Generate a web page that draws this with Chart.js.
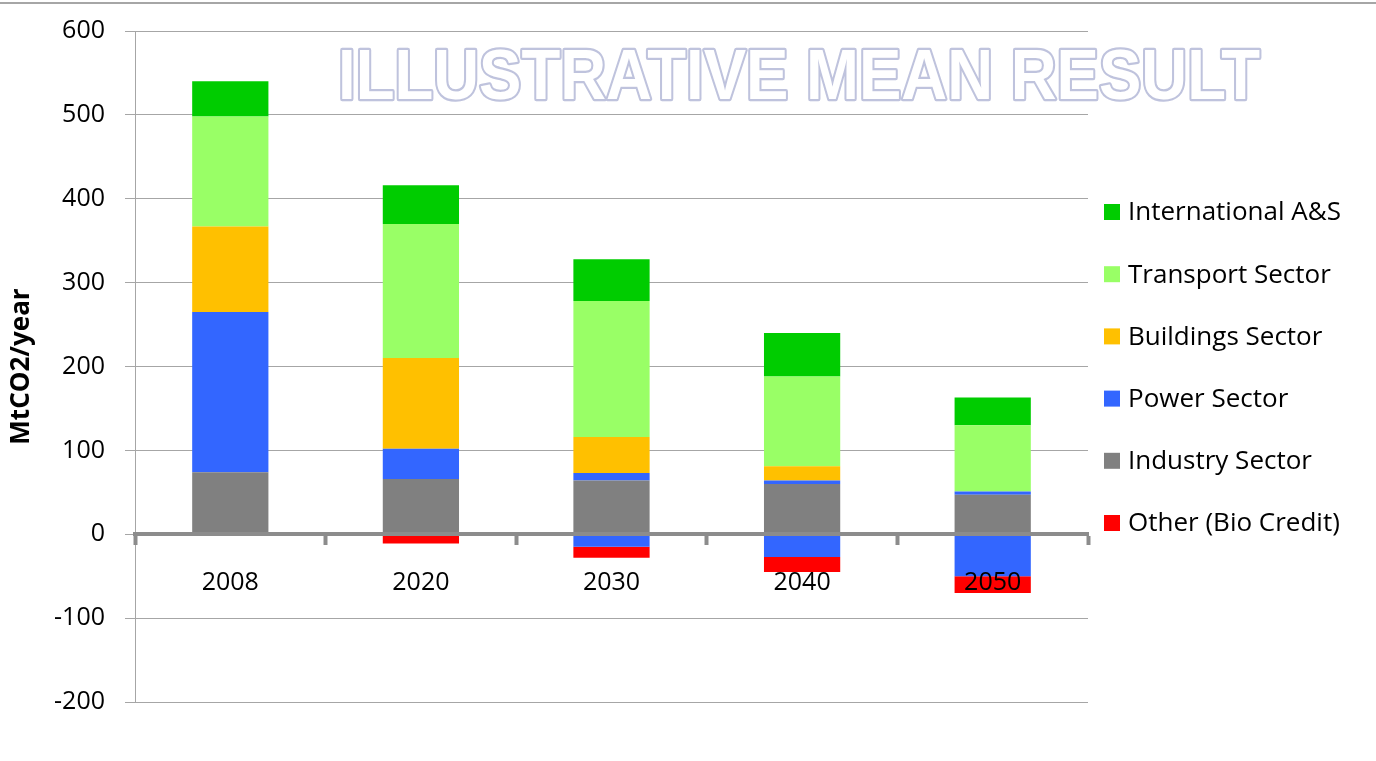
<!DOCTYPE html>
<html>
<head>
<meta charset="utf-8">
<script src="https://cdn.jsdelivr.net/npm/chart.js@4.4.1/dist/chart.umd.min.js"></script>
<style>
    html, body { margin: 0; padding: 0; background: #fff; }
    #wrap { position: relative; width: 1376px; height: 761px; }
</style>
</head>
<body>
<div id="wrap"><canvas id="chart" width="1376" height="761"></canvas></div>
<script>
// data (MtCO2/year)
const years = ['2008', '2020', '2030', '2040', '2050'];
const industry = [74, 66, 64, 60, 47];
const powerPos = [191, 36, 9, 4, 4];
const powerNeg = [0, 0, -15, -27, -50];
const buildings = [102, 108, 43, 17, 0];
const transport = [131, 160, 162, 107, 79];
const intlAS = [42, 46, 50, 52, 33];
const otherBio = [0, -11, -13, -18, -20];
const yTickValues = [-200, -100, 0, 100, 200, 300, 400, 500, 600];
const legendOrder = ['International A&S', 'Transport Sector', 'Buildings Sector',
    'Power Sector', 'Industry Sector', 'Other (Bio Credit)'];

const FONT = '"Open Sans", "DejaVu Sans", sans-serif';

const colors = {
    intl: '#00cc00',
    transport: '#99ff66',
    buildings: '#ffc000',
    power: '#3366ff',
    industry: '#808080',
    other: '#ff0000'
};

// watermark title + top rule
const decorPlugin = {
    id: 'decor',
    beforeDraw(chart) {
        const ctx = chart.ctx;
        ctx.save();
        ctx.strokeStyle = '#a6a6a6';
        ctx.lineWidth = 2;
        ctx.beginPath();
        ctx.moveTo(0, 3);
        ctx.lineTo(chart.width, 3);
        ctx.stroke();
        ctx.restore();
    },
    beforeDatasetsDraw(chart) {
        const ctx = chart.ctx;
        const text = 'ILLUSTRATIVE MEAN RESULT';
        ctx.save();
        ctx.font = 'bold 70px "Liberation Sans", Arial, sans-serif';
        ctx.textBaseline = 'alphabetic';
        const w = ctx.measureText(text).width;
        ctx.translate(338, 99);
        ctx.scale(922 / w, 1);
        ctx.lineJoin = 'round';
        ctx.strokeStyle = '#bfc3dd';
        ctx.lineWidth = 4.5;
        ctx.strokeText(text, 0, 0);
        ctx.fillStyle = '#ffffff';
        ctx.fillText(text, 0, 0);
        ctx.restore();
    }
};

// legend at the right of the plot
const sideLegend = {
    id: 'sideLegend',
    afterDraw(chart) {
        const ctx = chart.ctx;
        const area = chart.chartArea;
        const items = legendOrder.map(name => chart.data.datasets.find(d => d.label === name));
        const step = 62.2;
        const y0 = (area.top + area.bottom) / 2 - step * (items.length - 1) / 2 + 1;
        ctx.save();
        ctx.font = '26px ' + FONT;
        ctx.textBaseline = 'middle';
        ctx.textAlign = 'left';
        items.forEach((d, i) => {
            const y = y0 + i * step;
            ctx.fillStyle = d.backgroundColor;
            ctx.fillRect(area.right + 16, y - 8, 16, 16);
            ctx.fillStyle = '#000';
            ctx.fillText(d.label, area.right + 40, y + 1);
        });
        ctx.restore();
    }
};

const tickFont = { family: FONT, size: 25 };

new Chart(document.getElementById('chart'), {
    type: 'bar',
    data: {
        labels: years,
        datasets: [
            { label: 'Industry Sector', data: industry, backgroundColor: colors.industry },
            { label: 'Power Sector', data: powerPos, backgroundColor: colors.power },
            { label: 'Power Sector (negative)', data: powerNeg, backgroundColor: colors.power },
            { label: 'Buildings Sector', data: buildings, backgroundColor: colors.buildings },
            { label: 'Transport Sector', data: transport, backgroundColor: colors.transport },
            { label: 'International A&S', data: intlAS, backgroundColor: colors.intl },
            { label: 'Other (Bio Credit)', data: otherBio, backgroundColor: colors.other }
        ].map(d => Object.assign(d, { barPercentage: 0.4, categoryPercentage: 1.0, borderWidth: 0 }))
    },
    options: {
        responsive: false,
        animation: false,
        layout: { padding: { left: 0, top: 31, right: 288, bottom: 59 } },
        plugins: {
            legend: { display: false },
            tooltip: { enabled: false }
        },
        scales: {
            x: {
                stacked: true,
                position: { y: 0 },
                border: { display: true, color: '#8c8c8c', width: 4, z: 1 },
                grid: {
                    display: true,
                    drawOnChartArea: false,
                    drawTicks: true,
                    offset: true,
                    tickLength: 9,
                    tickWidth: 4,
                    tickColor: '#8c8c8c',
                    z: 1
                },
                ticks: { color: '#000', font: tickFont, padding: 25, z: 1 }
            },
            y: {
                stacked: true,
                min: -200,
                max: 600,
                afterBuildTicks: (axis) => {
                    axis.ticks = yTickValues.map(v => ({ value: v }));
                },
                afterFit: (axis) => { axis.width = 135; },
                // small lineHeight keeps the label overhang from pushing the plot top down
                ticks: { color: '#000', font: { family: FONT, size: 25, lineHeight: 0.6 }, padding: 20 },
                grid: { color: '#a6a6a6', lineWidth: 1, tickLength: 10 },
                border: { color: '#a6a6a6', width: 1 },
                title: {
                    display: true,
                    text: 'MtCO2/year',
                    color: '#000',
                    font: { family: FONT, size: 26, weight: 'bold' },
                    padding: { top: 6, bottom: 0 }
                }
            }
        }
    },
    plugins: [decorPlugin, sideLegend]
});
</script>
</body>
</html>
